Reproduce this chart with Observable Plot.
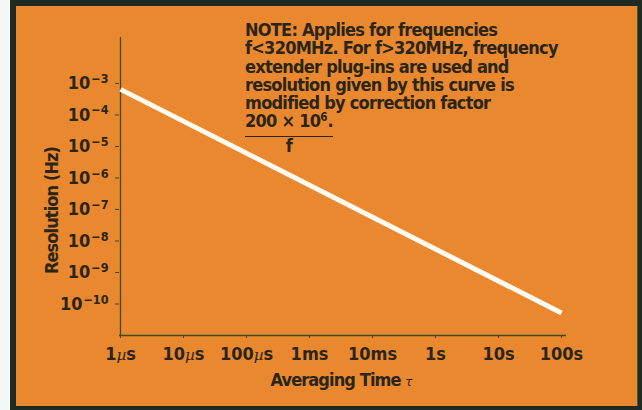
<!DOCTYPE html>
<html>
<head>
<meta charset="utf-8">
<script src="https://cdn.jsdelivr.net/npm/d3@7"></script>
<script src="https://cdn.jsdelivr.net/npm/@observablehq/plot@0.6"></script>
<style>
  html, body { margin: 0; padding: 0; background: #f4f8f6; }
  #wrap { position: relative; width: 642px; height: 410px; overflow: hidden; background: #f4f8f6; }
  #frame { position: absolute; left: 10px; top: 0; width: 632px; height: 410px; background: #1f2a22; }
  #panel { position: absolute; left: 16px; top: 6px; width: 621px; height: 400px; background: #e9882f; border-right: 1px solid #4a5a20; }
  #chart { position: absolute; left: 0; top: 0; }
  #chart svg g[aria-label="text"] text { letter-spacing: -0.9px; }
  .note { position: absolute; left: 245px; top: 21px; font-family: "DejaVu Sans Condensed", "Liberation Sans Narrow", "Arial Narrow", sans-serif; font-weight: bold; font-size: 18px; letter-spacing: -0.75px; line-height: 18.3px; color: #2a2516; white-space: nowrap; }
  .note sup { font-size: 11.5px; vertical-align: 6px; line-height: 0; letter-spacing: 0; }
  .frac { display: inline-block; vertical-align: top; }
  .num { display: block; border-bottom: 1.5px solid #2a2516; padding-bottom: 5px; }
  .den { display: block; text-align: center; margin-top: 0; }
</style>
</head>
<body>
<div id="wrap">
  <div id="frame"></div>
  <div id="panel"></div>
  <div id="chart"></div>
  <div class="note">NOTE: Applies for frequencies<br>f&lt;320MHz. For f&gt;320MHz, frequency<br>extender plug-ins are used and<br>resolution given by this curve is<br>modified by correction factor<br><span class="frac"><span class="num">200 × 10<sup>6</sup>.</span><span class="den">f</span></span></div>
</div>
<script>
// Averaging time tick labels (evenly spaced on the original chart)
const tauLabels = ["1µs", "10µs", "100µs", "1ms", "10ms", "1s", "10s", "100s"];
// Resolution tick values
const resTicks = [1e-3, 1e-4, 1e-5, 1e-6, 1e-7, 1e-8, 1e-9, 1e-10];
// Curve end points
const curveTau = ["1µs", "100s"];
const curveRes = [6.5e-4, 5.2e-11];

const curve = curveTau.map((t, i) => ({tau: t, res: curveRes[i]}));
const font = '"DejaVu Sans Condensed", "Liberation Sans Narrow", "Arial Narrow", sans-serif';
const ink = "#2a2516";
const axisInk = "#3c4a1c";

const chart = Plot.plot({
  width: 642,
  height: 410,
  marginLeft: 119,
  marginRight: 80,
  marginTop: 37,
  marginBottom: 75,
  style: {background: "transparent", fontFamily: font, fontWeight: "bold", fontSize: "18px", color: ink},
  x: {type: "point", domain: tauLabels, padding: 0},
  y: {type: "log", domain: [1e-11, 0.0288]},
  marks: [
    Plot.ruleX([tauLabels[0]], {stroke: axisInk, strokeWidth: 1.3}),
    Plot.ruleY([1e-11], {stroke: axisInk, strokeWidth: 1.3, insetRight: -4}),
    Plot.axisY({ticks: resTicks, tickFormat: d => "10^" + Math.round(Math.log10(d)), tickSize: 4, tickPadding: 7, stroke: axisInk, fill: ink, label: null}),
    Plot.axisX({tickSize: 3, tickPadding: 9, stroke: axisInk, fill: ink, label: null}),
    Plot.line(curve, {x: "tau", y: "res", stroke: "#fffaf0", strokeWidth: 5, strokeLinecap: "butt"}),
    Plot.text(["Resolution (Hz)"], {frameAnchor: "left", textAnchor: "middle", rotate: -90, dx: -67, dy: 24, fill: ink, fontSize: 18}),
    Plot.text(["Averaging Time τ"], {frameAnchor: "bottom", dy: 50, fill: ink, fontSize: 18, lineAnchor: "bottom"})
  ]
});
document.getElementById("chart").appendChild(chart);

// superscript exponents on y tick labels
const svgNS = "http://www.w3.org/2000/svg";
chart.querySelectorAll('g[aria-label="y-axis tick label"] text').forEach(t => {
  const s = t.textContent;
  if (!s.startsWith("10^")) return;
  const e = s.slice(3).replace("-", "−");
  t.textContent = "10";
  const sp = document.createElementNS(svgNS, "tspan");
  sp.setAttribute("font-size", "12.5");
  sp.setAttribute("dy", "-0.5em");
  sp.setAttribute("dx", "1");
  sp.textContent = e;
  t.appendChild(sp);
});
// italic µ on x tick labels
chart.querySelectorAll('g[aria-label="x-axis tick label"] text').forEach(t => {
  const s = t.textContent;
  const i = s.indexOf("µ");
  if (i < 0) return;
  t.textContent = s.slice(0, i);
  const mu = document.createElementNS(svgNS, "tspan");
  mu.setAttribute("font-style", "italic");
  mu.setAttribute("font-family", "DejaVu Serif, serif");
  mu.setAttribute("font-weight", "normal");
  mu.setAttribute("font-size", "15");
  mu.textContent = "µ";
  t.appendChild(mu);
  const rest = document.createElementNS(svgNS, "tspan");
  rest.textContent = s.slice(i + 1);
  t.appendChild(rest);
});
// smaller italic tau in the x label
chart.querySelectorAll('g[aria-label="text"] text').forEach(t => {
  const s = t.textContent;
  const i = s.indexOf("τ");
  if (i < 0) return;
  t.textContent = s.slice(0, i);
  const tau = document.createElementNS(svgNS, "tspan");
  tau.setAttribute("font-style", "italic");
  tau.setAttribute("font-weight", "normal");
  tau.setAttribute("font-size", "13");
  tau.textContent = "τ";
  t.appendChild(tau);
});
</script>
</body>
</html>
